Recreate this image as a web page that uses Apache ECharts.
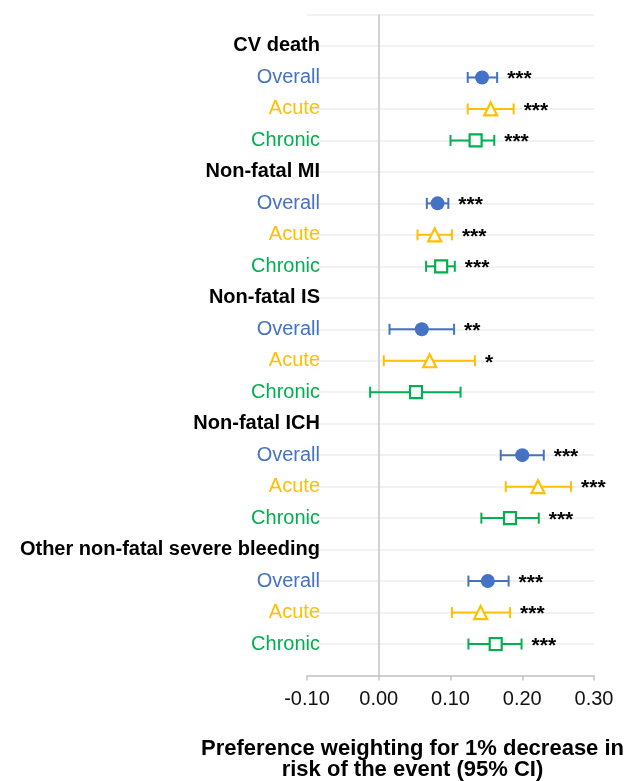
<!DOCTYPE html>
<html><head><meta charset="utf-8">
<script src="https://cdn.jsdelivr.net/npm/echarts@6/dist/echarts.min.js"></script>
<style>html,body{margin:0;padding:0;background:#fff}#c{width:634px;height:781px}</style>
</head><body><div id="c"></div>
<script>
const groups = ['CV death','Non-fatal MI','Non-fatal IS','Non-fatal ICH','Other non-fatal severe bleeding'];
const subtypes = ['Overall','Acute','Chronic'];
const overallEst  = [0.144, 0.082, 0.060, 0.200, 0.152];
const overallLow  = [0.124, 0.067, 0.015, 0.170, 0.125];
const overallHigh = [0.165, 0.097, 0.105, 0.230, 0.181];
const overallSig  = ['***','***','**','***','***'];
const acuteEst  = [0.156, 0.078, 0.071, 0.222, 0.142];
const acuteLow  = [0.124, 0.054, 0.007, 0.177, 0.102];
const acuteHigh = [0.188, 0.102, 0.134, 0.268, 0.183];
const acuteSig  = ['***','***','*','***','***'];
const chronicEst  = [0.135, 0.087, 0.052, 0.183, 0.163];
const chronicLow  = [0.100, 0.066, -0.012, 0.143, 0.125];
const chronicHigh = [0.161, 0.106, 0.114, 0.223, 0.199];
const chronicSig  = ['***','***','','***','***'];
const xTicks = [-0.10, 0.00, 0.10, 0.20, 0.30];
const xTitle = 'Preference weighting for 1% decrease in\nrisk of the event (95% CI)';

const FONT = '"Liberation Sans", Arial, Helvetica, sans-serif';
const colors = ['#4472C4', '#FFC000', '#00B050'];
const styleKeys = ['o', 'a', 'c'];
const nRows = groups.length * (subtypes.length + 1);
const headerRow = g => nRows - g * (subtypes.length + 1);
const subRow = (g, s) => headerRow(g) - 1 - s;

const rowLabels = {};
groups.forEach((name, g) => {
  rowLabels[headerRow(g)] = '{h|' + name + '}';
  subtypes.forEach((st, s) => { rowLabels[subRow(g, s)] = '{' + styleKeys[s] + '|' + st + '}'; });
});

const sets = [
  [overallEst, overallLow, overallHigh, overallSig],
  [acuteEst, acuteLow, acuteHigh, acuteSig],
  [chronicEst, chronicLow, chronicHigh, chronicSig]
];

function makeRender(color, sig) {
  return function (params, api) {
    const y = api.value(2);
    const p1 = api.coord([api.value(0), y]);
    const p2 = api.coord([api.value(1), y]);
    const cap = 5.5;
    const ls = { stroke: color, lineWidth: 2 };
    return {
      type: 'group',
      children: [
        { type: 'line', shape: { x1: p1[0], y1: p1[1], x2: p2[0], y2: p2[1] }, style: ls },
        { type: 'line', shape: { x1: p1[0], y1: p1[1] - cap, x2: p1[0], y2: p1[1] + cap }, style: ls },
        { type: 'line', shape: { x1: p2[0], y1: p2[1] - cap, x2: p2[0], y2: p2[1] + cap }, style: ls },
        { type: 'text', x: p2[0] + 10, y: p2[1] + 2,
          style: { text: sig[params.dataIndex], font: 'bold 21px ' + FONT, fill: '#000',
                   align: 'left', verticalAlign: 'middle' } }
      ]
    };
  };
}

const series = [];
sets.forEach((set, s) => {
  const data = groups.map((g, i) => [set[1][i], set[2][i], subRow(i, s)]);
  const ser = {
    type: 'custom', name: subtypes[s] + ' CI', renderItem: makeRender(colors[s], set[3]),
    data: data, silent: true, z: 2
  };
  if (s === 0) {
    ser.markLine = {
      silent: true, symbol: 'none', label: { show: false },
      lineStyle: { color: '#c4c4c4', width: 1.5, type: 'solid' },
      data: [{ xAxis: 0 }], z: 1
    };
  }
  series.push(ser);
});
const symbols = ['circle', 'triangle', 'rect'];
const sizes = [14, [13, 13], 12];
sets.forEach((set, s) => {
  series.push({
    type: 'scatter', name: subtypes[s], symbol: symbols[s], symbolSize: sizes[s], z: 5,
    data: groups.map((g, i) => [set[0][i], subRow(i, s)]),
    itemStyle: s === 0 ? { color: colors[s], opacity: 1 } : { color: '#fff', borderColor: colors[s], borderWidth: 2.2, opacity: 1 },
    silent: true
  });
});

const chart = echarts.init(document.getElementById('c'));
chart.setOption({
  animation: false,
  backgroundColor: '#fff',
  textStyle: { fontFamily: FONT },
  grid: { left: 307, right: 40, top: 14.5, bottom: 105.5, containLabel: false, outerBoundsMode: 'none' },
  xAxis: {
    type: 'value', min: xTicks[0], max: xTicks[xTicks.length - 1], interval: 0.1,
    axisLine: { show: true, lineStyle: { color: '#c4c4c4', width: 1.5 } },
    axisTick: { show: true, length: 5, lineStyle: { color: '#c4c4c4', width: 1.5 } },
    splitLine: { show: false },
    axisLabel: { fontSize: 20, color: '#111', margin: 14, fontFamily: FONT,
                 formatter: v => (Math.abs(v) < 1e-9 ? 0 : v).toFixed(2) },
    name: xTitle, nameLocation: 'middle', nameGap: 63,
    nameTextStyle: { fontSize: 22, fontWeight: 'bold', color: '#000', lineHeight: 21,
                     fontFamily: FONT, padding: [0, 76, 0, 0], verticalAlign: 'top' }
  },
  yAxis: {
    type: 'value', min: 0, max: nRows + 1, interval: 1,
    axisLine: { show: false }, axisTick: { show: false },
    splitLine: { show: true, lineStyle: { color: '#eeeeee', width: 1.5 } },
    axisLabel: {
      margin: -13, fontFamily: FONT,
      formatter: v => rowLabels[v] || '',
      rich: {
        h: { fontSize: 20, fontWeight: 'bold', color: '#000', fontFamily: FONT },
        o: { fontSize: 20, color: colors[0], fontFamily: FONT },
        a: { fontSize: 20, color: colors[1], fontFamily: FONT },
        c: { fontSize: 20, color: colors[2], fontFamily: FONT }
      }
    }
  },
  series: series
});
</script>
</body></html>
